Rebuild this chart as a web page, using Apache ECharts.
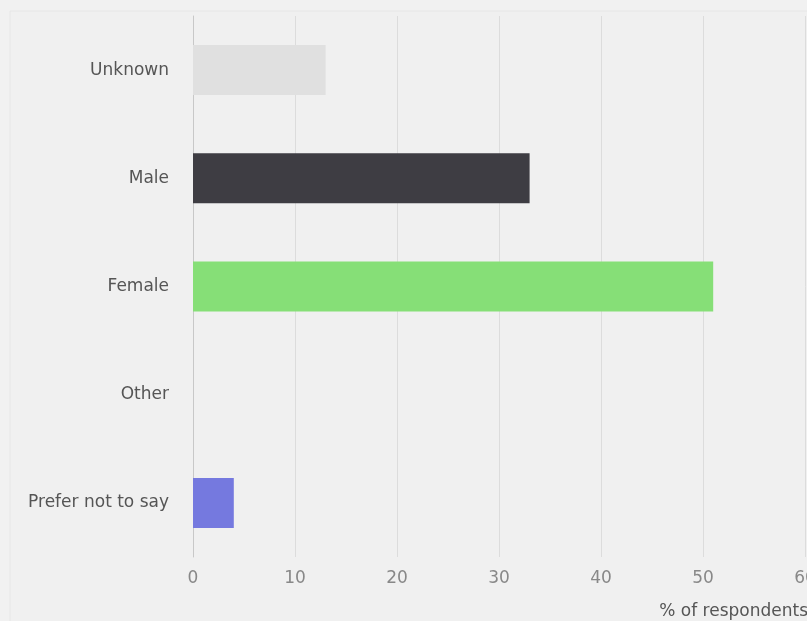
<!DOCTYPE html>
<html>
<head>
<meta charset="utf-8">
<script src="https://cdn.jsdelivr.net/npm/echarts@6/dist/echarts.min.js"></script>
<style>
  html, body { margin: 0; padding: 0; background: #f1f1f1; }
  #chart { width: 807px; height: 621px; }
</style>
</head>
<body>
<div id="chart"></div>
<script>
// categories, top to bottom
const categories = ["Unknown", "Male", "Female", "Other", "Prefer not to say"];
const percentValues = [13, 33, 51, 0, 4];
const barColors = ["#e0e0e0", "#3e3d43", "#86df77", "#e0e0e0", "#7579df"];
const xTicks = { min: 0, max: 60, interval: 10 };

const chart = echarts.init(document.getElementById("chart"));

const option = {
  backgroundColor: "#f1f1f1",
  animation: false,
  graphic: [
    {
      type: "rect",
      shape: { x: 10, y: 11, width: 800, height: 615 },
      style: { fill: "#f0f0f0", stroke: "#e6e6e6", lineWidth: 1 },
      z: -10
    }
  ],
  grid: { left: 193, right: 2, top: 16, bottom: 64, outerBoundsMode: "none", containLabel: false },
  xAxis: {
    type: "value",
    min: xTicks.min,
    max: xTicks.max,
    interval: xTicks.interval,
    name: "% of respondents",
    nameLocation: "end",
    nameGap: 3,
    nameTextStyle: {
      align: "right",
      verticalAlign: "top",
      padding: [46, 0, 0, 0],
      color: "#555",
      fontSize: 17,
      fontFamily: "DejaVu Sans"
    },
    axisLine: { show: false },
    axisTick: { show: false },
    axisLabel: { color: "#888", fontSize: 17, fontFamily: "DejaVu Sans", margin: 13 },
    splitLine: { lineStyle: { color: "#dcdcdc", width: 1 } }
  },
  yAxis: {
    type: "category",
    inverse: true,
    data: categories,
    axisLine: { show: true, lineStyle: { color: "#c8c8c8", width: 1 } },
    axisTick: { show: false },
    axisLabel: { color: "#555", fontSize: 17, fontFamily: "DejaVu Sans", margin: 24 }
  },
  series: [
    {
      type: "bar",
      barWidth: 50,
      data: percentValues.map((v, i) => ({ value: v, itemStyle: { color: barColors[i] } }))
    }
  ]
};

chart.setOption(option);
</script>
</body>
</html>
